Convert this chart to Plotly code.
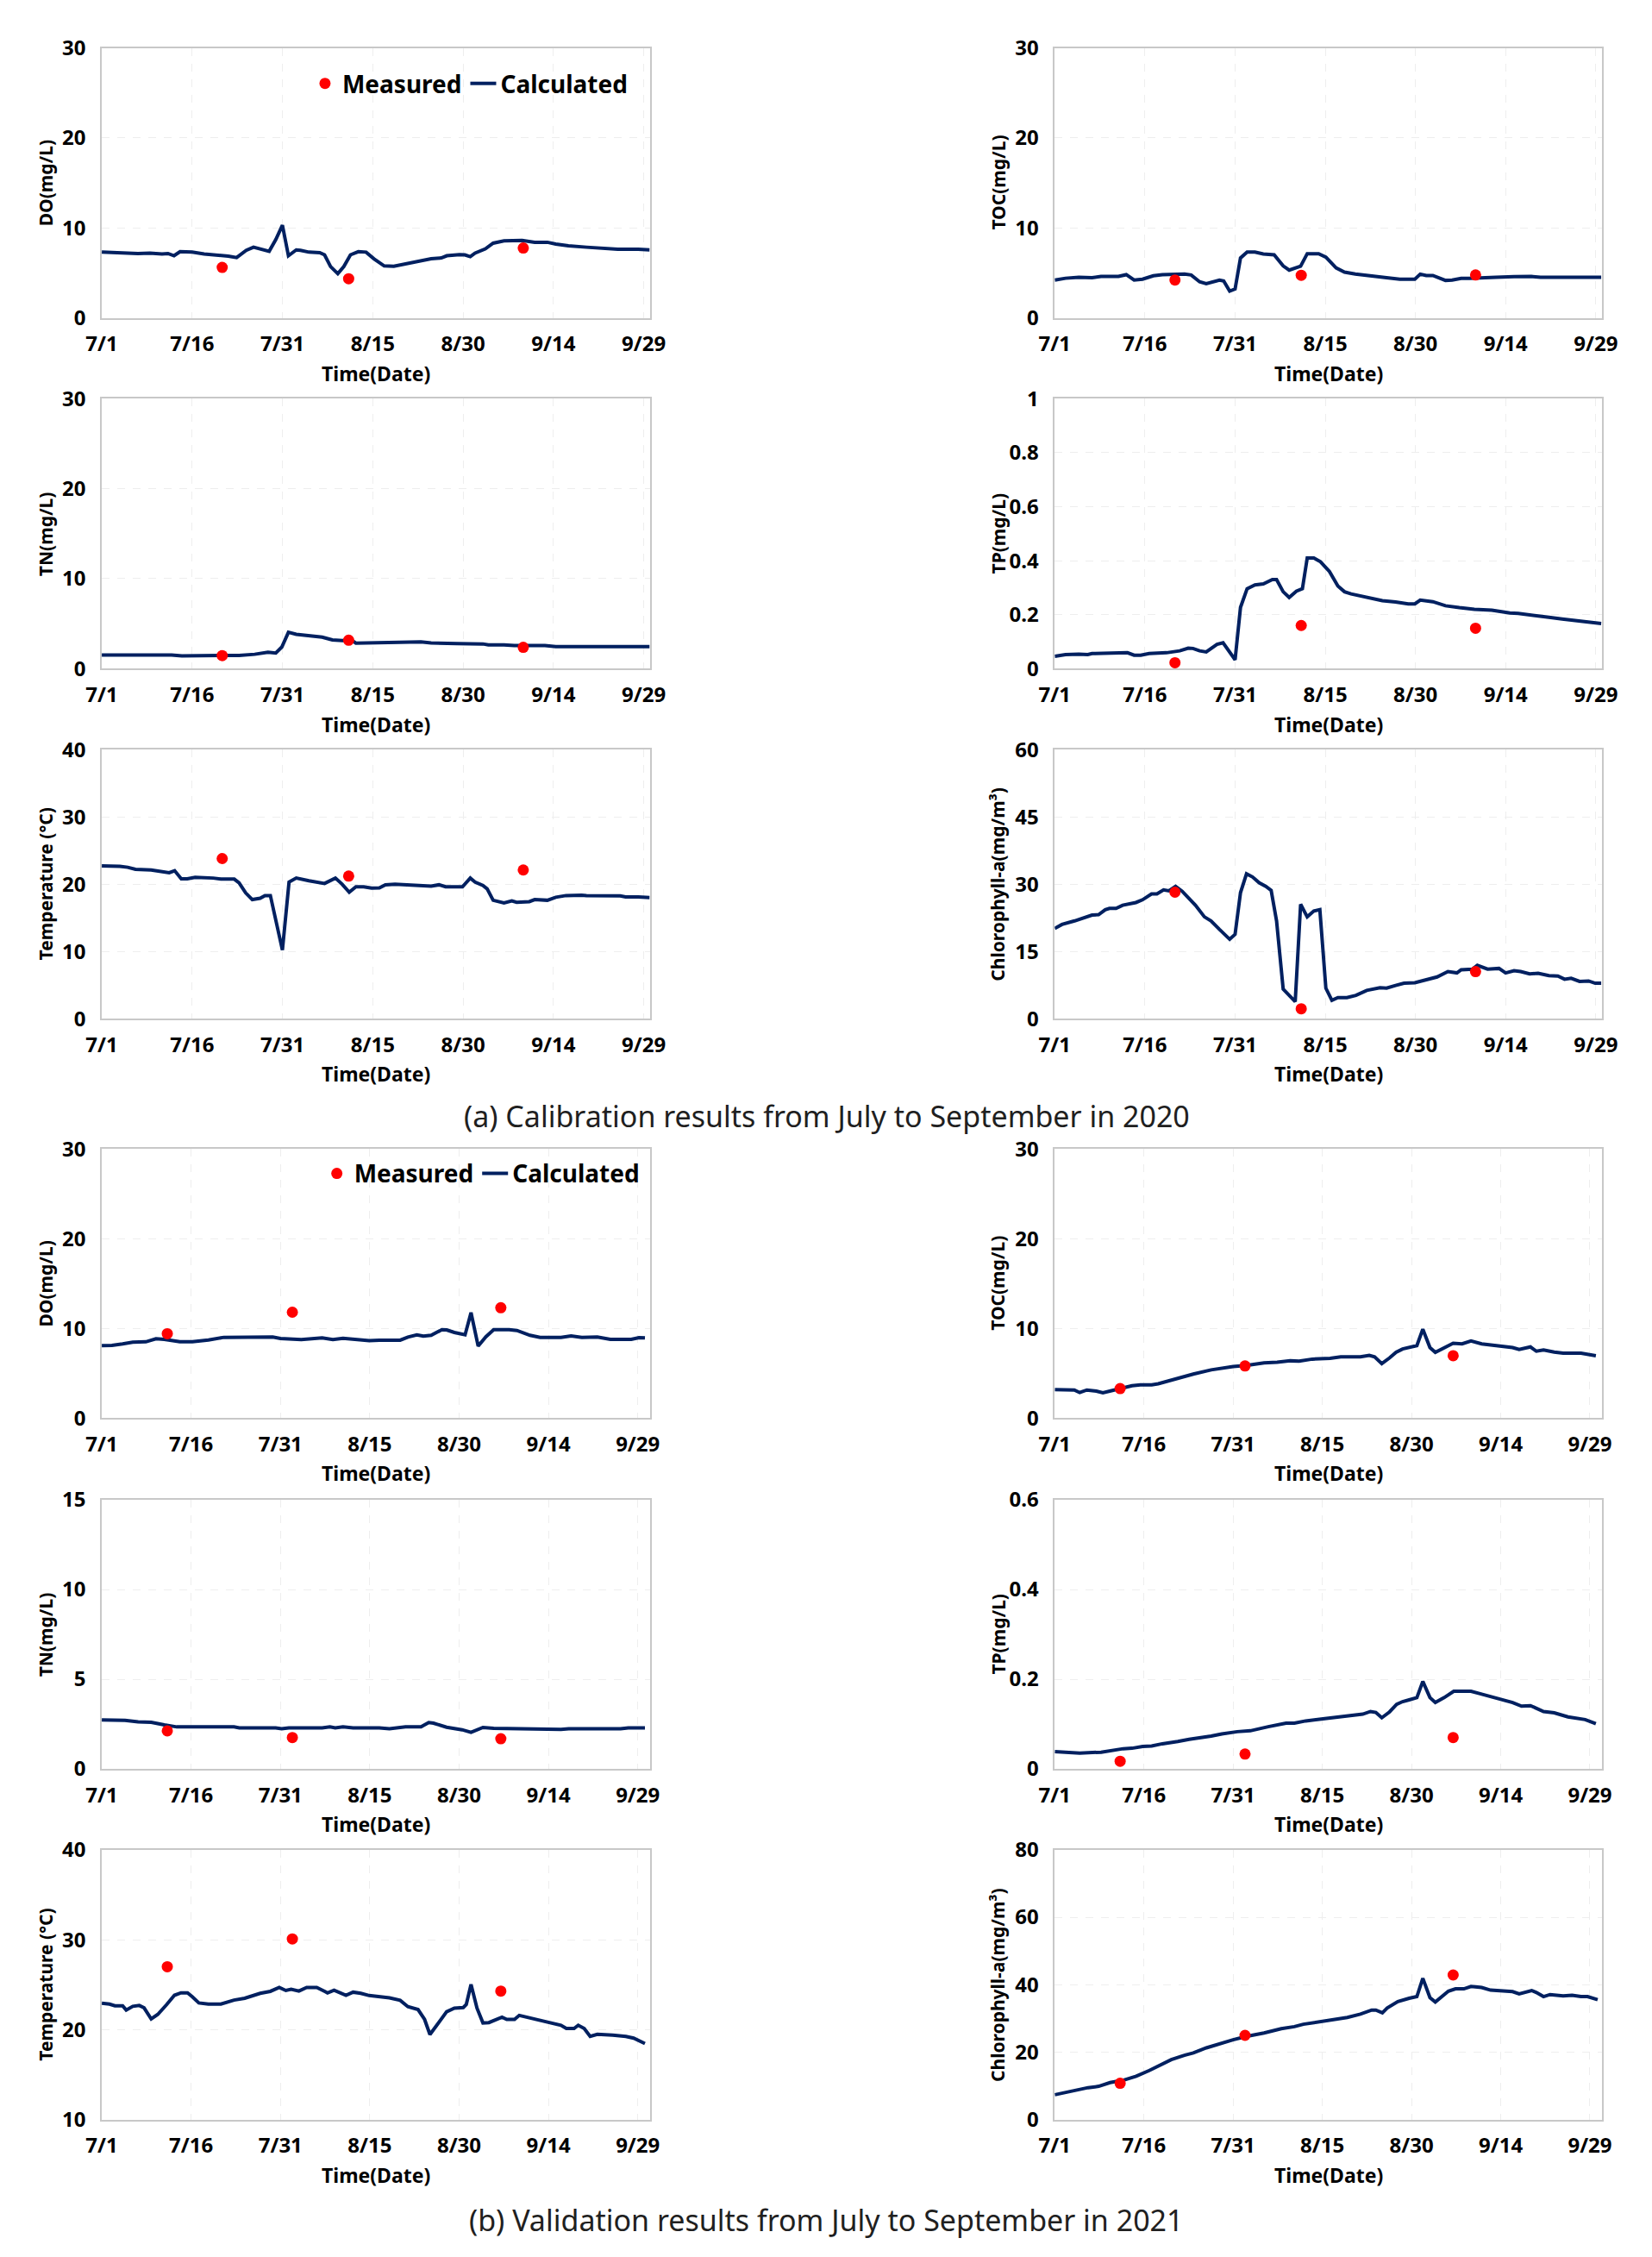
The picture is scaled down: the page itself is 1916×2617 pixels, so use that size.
import plotly.graph_objects as go

W, H = 1916, 2617
NAVY = '#002060'
RED = '#ff0000'
FONT = 'Noto Sans'

# x axis: days after 7/1
x_tickvals = [0, 15, 30, 45, 60, 75, 90]
x_ticktext = ['7/1', '7/16', '7/31', '8/15', '8/30', '9/14', '9/29']

meas_days_2020 = [20, 41, 70]
meas_days_2021 = [11, 32, 67]

# ---- 2020 calibration (day, value) ----
do_2020_calc = [(0, 7.3), (2, 7.25), (4, 7.2), (6, 7.15), (8, 7.2), (10, 7.1), (11, 7.15), (12, 6.9),
                (13, 7.35), (15, 7.3), (17, 7.1), (19, 7.0), (21, 6.85), (22.4, 6.7), (24, 7.5),
                (25.2, 7.85), (27.8, 7.4), (28.9, 8.7), (30, 10.3), (31, 6.9), (32.3, 7.55), (33, 7.5),
                (34.4, 7.3), (36.2, 7.25), (37, 7.0), (38, 5.7), (39.2, 4.9), (40.2, 5.7), (41.3, 7.0),
                (42.6, 7.35), (43.9, 7.3), (45.2, 6.56), (46.9, 5.77), (48.5, 5.74), (51.2, 6.1),
                (54.7, 6.56), (56.4, 6.66), (57.3, 6.9), (59.4, 7.03), (60.3, 7.0), (61.2, 6.8), (62, 7.2),
                (63.7, 7.67), (65, 8.3), (66.8, 8.55), (69.8, 8.6), (71.9, 8.4), (74, 8.4), (75.4, 8.2),
                (77.5, 8.0), (80.5, 7.85), (83.1, 7.75), (85.7, 7.63), (89.1, 7.63), (91, 7.55)]
do_2020_meas = [5.6, 4.35, 7.76]

toc_2020_calc = [(0, 4.2), (1.8, 4.4), (4, 4.5), (6.2, 4.45), (7.7, 4.6), (10.6, 4.6), (11.9, 4.8),
                 (13.2, 4.2), (14.6, 4.3), (16.4, 4.67), (17.9, 4.8), (21.6, 4.86), (22.7, 4.76), (24.1, 4.0),
                 (25.2, 3.8), (27.4, 4.2), (28.1, 4.1), (29.1, 2.97), (30, 3.2), (30.9, 6.65), (32, 7.3),
                 (33.3, 7.3), (34.7, 7.1), (36.5, 7.0), (38, 5.77), (39, 5.3), (40.9, 5.74), (42, 7.13),
                 (43.9, 7.13), (45.1, 6.75), (46.8, 5.55), (48.2, 5.08), (50, 4.86), (53, 4.57), (55.2, 4.45),
                 (57.4, 4.3), (59.9, 4.3), (60.8, 4.86), (61.8, 4.7), (62.9, 4.7), (65, 4.16), (66.1, 4.2),
                 (67.6, 4.38), (69, 4.38), (70.5, 4.45), (73.4, 4.5), (76.4, 4.57), (79.3, 4.6), (80.8, 4.5),
                 (90.9, 4.5)]
toc_2020_meas = [4.2, 4.73, 4.76]

tn_2020_calc = [(0, 1.52), (11.6, 1.52), (13.3, 1.42), (22.8, 1.48), (25.4, 1.6), (27.6, 1.83), (28.9, 1.74),
                (29.9, 2.4), (31, 4.04), (32.3, 3.82), (36.6, 3.5), (38.3, 3.19), (40, 3.13), (41.3, 3.25),
                (42.2, 2.84), (46.1, 2.87), (47.8, 2.97), (53, 2.97), (54.7, 2.87), (58.1, 2.87), (59, 2.78),
                (63.3, 2.75), (64.2, 2.65), (66.8, 2.65), (68.5, 2.56), (73.6, 2.56), (75.4, 2.46), (91, 2.46)]
tn_2020_meas = [1.45, 3.16, 2.37]

tp_2020_calc = [(0, 0.046), (1.8, 0.052), (4, 0.054), (5.5, 0.052), (6.2, 0.056), (11.3, 0.056), (12.1, 0.059),
                (13.2, 0.05), (14.3, 0.05), (15.7, 0.056), (18.6, 0.059), (20.8, 0.066), (22.2, 0.076),
                (23, 0.075), (24.1, 0.066), (25.2, 0.062), (26.3, 0.077), (27, 0.09), (28, 0.096),
                (29.1, 0.059), (30, 0.033), (30.9, 0.227), (32, 0.296), (33.3, 0.31), (34.7, 0.314),
                (36.2, 0.33), (36.9, 0.33), (38, 0.285), (39, 0.264), (40.2, 0.287), (41.2, 0.296),
                (42, 0.41), (43.1, 0.41), (44.2, 0.396), (45.7, 0.36), (47.1, 0.306), (48.2, 0.285),
                (49.3, 0.277), (52.2, 0.264), (54.5, 0.252), (56.7, 0.247), (58.8, 0.24), (59.9, 0.24),
                (60.8, 0.254), (62.9, 0.248), (65, 0.233), (67.3, 0.226), (69.8, 0.22), (72.7, 0.217),
                (75.7, 0.206), (77.1, 0.205), (80, 0.195), (82.2, 0.19), (84.4, 0.184), (87.3, 0.177),
                (90.9, 0.167)]
tp_2020_meas = [0.022, 0.16, 0.15]

temp_2020_calc = [(0, 22.7), (3, 22.65), (4.3, 22.5), (5.6, 22.2), (8.2, 22.1), (9.9, 21.8), (11.2, 21.7),
                  (12.1, 22.0), (13.2, 20.8), (14.2, 20.8), (15.5, 21.0), (18.5, 20.9), (19.8, 20.75),
                  (22, 20.75), (22.8, 20.2), (23.9, 18.7), (25, 17.7), (26.3, 17.9), (27.1, 18.3), (28, 18.3),
                  (30, 10.2), (31.1, 20.3), (32.3, 20.9), (34.4, 20.5), (37, 20.1), (38.8, 20.9), (39.9, 20.0),
                  (41.1, 18.8), (42.2, 19.6), (43.5, 19.6), (44.8, 19.4), (46.1, 19.45), (47.1, 19.9),
                  (48.7, 20.0), (51.2, 19.9), (53, 19.75), (54.7, 19.7), (56, 19.9), (57.1, 19.6),
                  (59.9, 19.6), (61.2, 20.9), (62, 20.3), (63.3, 19.8), (64, 19.3), (65, 17.6), (66.8, 17.2),
                  (68.1, 17.5), (68.9, 17.3), (71, 17.4), (71.9, 17.7), (74, 17.6), (75.4, 18.05),
                  (77.1, 18.3), (79.7, 18.35), (80.5, 18.3), (86.1, 18.25), (87, 18.1), (89.1, 18.1), (91, 18.0)]
temp_2020_meas = [23.8, 21.2, 22.1]

chl_2020_calc = [(0, 20.1), (1.2, 21.0), (3.3, 21.8), (4.8, 22.4), (6.2, 23.1), (7.3, 23.2), (8.4, 24.3),
                 (9.1, 24.6), (10.2, 24.6), (11.3, 25.3), (13.5, 25.9), (14.6, 26.5), (16.1, 27.8), (17, 27.8),
                 (18.1, 28.7), (19, 28.5), (20.1, 29.5), (21.2, 28.4), (23.4, 25.3), (24.9, 22.7), (26, 21.8),
                 (27.4, 19.9), (29.1, 17.7), (30, 18.8), (30.9, 28.1), (31.9, 32.3), (32.9, 31.6), (34, 30.3),
                 (35.1, 29.5), (36, 28.6), (36.9, 21.8), (38, 6.6), (39.1, 4.9), (40, 3.8), (40.9, 25.5),
                 (42, 22.7), (43.1, 24.0), (44.1, 24.3), (45.1, 6.8), (46.1, 4.1), (47.1, 4.7), (48.6, 4.7),
                 (50.1, 5.2), (51.9, 6.3), (54.1, 6.9), (55.2, 6.8), (56.7, 7.4), (58.1, 7.9), (59.9, 8.0),
                 (61.8, 8.7), (63.6, 9.3), (65.4, 10.5), (66.9, 10.2), (67.6, 10.9), (69.5, 11.05),
                 (70.3, 11.9), (72, 11.05), (73.9, 11.2), (75, 10.2), (76.4, 10.7), (77.5, 10.5), (79, 10.0),
                 (80.4, 10.1), (82.2, 9.6), (83.7, 9.5), (84.8, 8.8), (85.9, 9.0), (87.3, 8.3), (88.8, 8.4),
                 (89.9, 7.9), (90.9, 7.9)]
chl_2020_meas = [28.2, 2.2, 10.5]

# ---- 2021 validation ----
do_2021_calc = [(0, 8.08), (1.7, 8.1), (3.5, 8.27), (5.2, 8.46), (7.4, 8.5), (9.1, 8.84), (10.5, 8.78),
                (13.1, 8.5), (15.2, 8.5), (17.9, 8.7), (20.5, 9.0), (23.1, 9.03), (28.7, 9.03), (30, 8.87),
                (33.5, 8.75), (37, 8.94), (38.8, 8.75), (40.5, 8.9), (44.9, 8.62), (46.6, 8.68), (50.1, 8.68),
                (51.4, 9.03), (52.9, 9.28), (54, 9.13), (55.3, 9.22), (57.1, 9.85), (57.9, 9.82), (59.2, 9.54),
                (61, 9.28), (62, 11.75), (63.2, 8.02), (64.5, 9.06), (65.8, 9.85), (68.4, 9.85), (69.7, 9.76),
                (71.9, 9.22), (73.6, 9.0), (77.1, 9.0), (78.8, 9.16), (80.6, 9.0), (83.2, 9.03), (85.4, 8.78),
                (88.9, 8.78), (90.2, 8.97), (91.2, 8.94)]
do_2021_meas = [9.4, 11.8, 12.3]

toc_2021_calc = [(0, 3.16), (3.3, 3.13), (4.2, 2.84), (5.4, 3.13), (7, 3.0), (8.1, 2.81), (9.4, 3.03),
                 (11.1, 3.3), (13, 3.6), (14.4, 3.7), (16.3, 3.7), (17.4, 3.82), (19.6, 4.23), (23.3, 4.9),
                 (26.3, 5.37), (30, 5.75), (32.2, 5.87), (35.2, 6.16), (37.4, 6.22), (39.6, 6.38), (41.1, 6.35),
                 (43.3, 6.57), (46.3, 6.66), (48.1, 6.82), (51.4, 6.82), (52.9, 6.98), (53.8, 6.82), (55, 6.06),
                 (56.3, 6.7), (57.4, 7.33), (58.5, 7.7), (59.6, 7.86), (60.9, 8.08), (61.9, 9.91), (63.1, 7.86),
                 (64, 7.33), (65.5, 7.89), (67, 8.34), (68.5, 8.27), (70, 8.59), (71.8, 8.27), (73.7, 8.12),
                 (75.5, 7.89), (77, 7.86), (78.1, 7.64), (80, 7.93), (81, 7.45), (82.2, 7.58), (84, 7.36),
                 (85.5, 7.23), (88.5, 7.23), (91, 6.95)]
toc_2021_meas = [3.28, 5.81, 6.95]

tn_2021_calc = [(0, 2.73), (3.9, 2.7), (6.1, 2.62), (8.3, 2.6), (10.5, 2.45), (12.6, 2.34), (22.2, 2.34),
                (23.1, 2.29), (29.2, 2.29), (30.2, 2.24), (31.4, 2.29), (37, 2.29), (38.3, 2.34), (39.2, 2.29),
                (40.5, 2.34), (42.2, 2.29), (46.6, 2.29), (48.3, 2.24), (51, 2.34), (53.6, 2.34), (54.9, 2.58),
                (55.7, 2.55), (57.9, 2.32), (60.5, 2.18), (62, 2.04), (64, 2.31), (65.8, 2.26), (69.3, 2.24),
                (70.1, 2.2), (77.1, 2.2), (78.4, 2.24), (87.1, 2.24), (88.4, 2.29), (91.2, 2.29)]
tn_2021_meas = [2.12, 1.75, 1.68]

tp_2021_calc = [(0, 0.0386), (3.3, 0.0373), (4.2, 0.0354), (7.8, 0.0373), (8.5, 0.039), (11.5, 0.045),
                (13, 0.046), (14.8, 0.05), (16.3, 0.051), (18.1, 0.056), (20.7, 0.061), (22.6, 0.066),
                (26.3, 0.073), (28.1, 0.078), (30.7, 0.083), (32.9, 0.085), (35.9, 0.094), (38.9, 0.102),
                (40.3, 0.102), (42.2, 0.107), (44.8, 0.111), (47.7, 0.116), (49.2, 0.119), (50.7, 0.121),
                (51.8, 0.122), (53.1, 0.128), (54, 0.126), (55, 0.114), (56.3, 0.127), (57.5, 0.144),
                (58.5, 0.15), (59.6, 0.154), (60.9, 0.159), (61.9, 0.195), (63.1, 0.159), (64, 0.148),
                (65.5, 0.159), (67.1, 0.173), (70, 0.173), (71.4, 0.168), (73.7, 0.159), (75.9, 0.152),
                (77, 0.148), (78.5, 0.14), (80, 0.141), (82.2, 0.128), (84, 0.125), (86.3, 0.116),
                (87.7, 0.114), (89.2, 0.11), (91, 0.101)]
tp_2021_meas = [0.017, 0.033, 0.070]

temp_2021_calc = [(0, 22.95), (1.3, 22.85), (2.2, 22.66), (3.5, 22.66), (4.1, 22.19), (5.2, 22.6), (6.3, 22.7),
                  (7.1, 22.44), (8.3, 21.2), (9.4, 21.7), (10.9, 22.8), (12.2, 23.83), (13.3, 24.1),
                  (14.4, 24.1), (15.2, 23.67), (16.3, 22.98), (17.9, 22.85), (20, 22.85), (22.2, 23.3),
                  (24, 23.5), (26.6, 24.05), (28.3, 24.27), (29.8, 24.7), (30.9, 24.36), (31.8, 24.5),
                  (33.1, 24.3), (34.4, 24.7), (36.1, 24.7), (37.5, 24.24), (37.9, 24.1), (39, 24.4),
                  (41, 23.83), (42.2, 24.18), (43.5, 24.05), (44.9, 23.8), (46.6, 23.64), (48.3, 23.55),
                  (50.1, 23.27), (51.4, 22.57), (53.1, 22.25), (54.2, 21.15), (55.1, 19.47), (56.4, 20.67),
                  (57.9, 22.0), (59.2, 22.4), (60.7, 22.47), (61.2, 22.8), (62, 25.03), (63, 22.4),
                  (64, 20.76), (65, 20.8), (67.2, 21.4), (68, 21.15), (69.3, 21.15), (70.1, 21.6),
                  (71.9, 21.3), (74.5, 20.96), (77.1, 20.5), (78, 20.14), (79.3, 20.14), (80, 20.5),
                  (81, 20.14), (82, 19.26), (83.2, 19.5), (85.8, 19.4), (88, 19.26), (89.3, 19.07),
                  (91.2, 18.47)]
temp_2021_meas = [27.0, 30.1, 24.3]

chl_2021_calc = [(0, 7.4), (1.9, 8.1), (4.1, 8.8), (5.6, 9.5), (7.4, 9.9), (9.3, 11.0), (11.5, 11.7),
                 (13.7, 12.9), (15.9, 14.6), (18.1, 16.4), (19.6, 17.8), (21.8, 19.1), (23.3, 19.8),
                 (25.5, 21.3), (27.8, 22.6), (30, 23.7), (32.2, 24.7), (35.2, 25.7), (38.1, 27.0), (40.3, 27.6),
                 (41.8, 28.3), (44, 28.9), (46.3, 29.6), (49.2, 30.3), (51.4, 31.3), (53.3, 32.5), (54, 32.5),
                 (55.1, 31.7), (55.9, 33.1), (57.7, 35.0), (59.6, 36.0), (60.9, 36.5), (61.9, 41.9),
                 (63.1, 36.2), (64, 34.9), (65.1, 36.6), (66.2, 38.1), (67.4, 38.8), (68.8, 38.8), (70, 39.5),
                 (71.8, 39.2), (73.3, 38.4), (76.2, 38.1), (77, 37.98), (78.1, 37.3), (80.2, 38.3), (81, 37.7),
                 (82.2, 36.5), (83.3, 37.1), (85.5, 36.7), (87, 36.9), (88.5, 36.5), (89.6, 36.5),
                 (91.3, 35.6)]
chl_2021_meas = [10.8, 25.0, 42.9]

# y axis titles and ticks
titles = ['DO(mg/L)', 'TOC(mg/L)', 'TN(mg/L)', 'TP(mg/L)', 'Temperature (°C)', 'Chlorophyll-a(mg/m³)']
yticks_2020 = [[0, 10, 20, 30], [0, 10, 20, 30], [0, 10, 20, 30],
               [0, 0.2, 0.4, 0.6, 0.8, 1], [0, 10, 20, 30, 40], [0, 15, 30, 45, 60]]
yticks_2021 = [[0, 10, 20, 30], [0, 10, 20, 30], [0, 5, 10, 15],
               [0, 0.2, 0.4, 0.6], [10, 20, 30, 40], [0, 20, 40, 60, 80]]

calc_2020 = [do_2020_calc, toc_2020_calc, tn_2020_calc, tp_2020_calc, temp_2020_calc, chl_2020_calc]
meas_2020 = [do_2020_meas, toc_2020_meas, tn_2020_meas, tp_2020_meas, temp_2020_meas, chl_2020_meas]
calc_2021 = [do_2021_calc, toc_2021_calc, tn_2021_calc, tp_2021_calc, temp_2021_calc, chl_2021_calc]
meas_2021 = [do_2021_meas, toc_2021_meas, tn_2021_meas, tp_2021_meas, temp_2021_meas, chl_2021_meas]

# panel geometry in pixels
rows_px = [(38, 355), (450, 767), (862, 1178), (1331, 1647), (1743, 2059), (2154, 2471)]
cols_px = [(101, 749), (1228, 1875)]
ytitle_x = [35, 1161]

panels = []
for k in range(6):
    panels.append(dict(row=k // 2, col=k % 2, calc=calc_2020[k], mdays=meas_days_2020, mvals=meas_2020[k],
                       title=titles[k], yticks=yticks_2020[k], xend=91, legend='legend' if k == 0 else None))
for k in range(6):
    panels.append(dict(row=3 + k // 2, col=k % 2, calc=calc_2021[k], mdays=meas_days_2021, mvals=meas_2021[k],
                       title=titles[k], yticks=yticks_2021[k], xend=92, legend='legend2' if k == 0 else None))

fig = go.Figure()
annotations = []
layout = {}
for i, p in enumerate(panels, start=1):
    sfx = '' if i == 1 else str(i)
    top, bot = rows_px[p['row']]
    left, right = cols_px[p['col']]
    days = [d for d, v in p['calc']]
    vals = [v for d, v in p['calc']]
    show = p['legend'] is not None
    fig.add_trace(go.Scatter(x=days, y=vals, mode='lines', name='Calculated',
                             line=dict(color=NAVY, width=4), xaxis='x' + sfx, yaxis='y' + sfx,
                             showlegend=show, legend=p['legend'] or 'legend', legendrank=2))
    fig.add_trace(go.Scatter(x=p['mdays'], y=p['mvals'], mode='markers', name='Measured',
                             marker=dict(color=RED, size=13), xaxis='x' + sfx, yaxis='y' + sfx,
                             showlegend=show, legend=p['legend'] or 'legend', legendrank=1))
    common = dict(showline=True, linecolor='#c8c8c8', linewidth=1.5, mirror=True,
                  showgrid=True, gridcolor='#eeeeee', griddash='dash', gridwidth=1,
                  zeroline=False, ticks='', ticklabelstandoff=8,
                  tickfont=dict(family=FONT, size=24, color='black', weight='bold'))
    layout['xaxis' + sfx] = dict(common, domain=[left / W, right / W], anchor='y' + sfx,
                                 range=[0, p['xend']], tickvals=x_tickvals, ticktext=x_ticktext)
    yt = p['yticks']
    layout['yaxis' + sfx] = dict(common, domain=[1 - bot / H, 1 - top / H], anchor='x' + sfx,
                                 range=[yt[0], yt[-1]], tickvals=yt)
    layout['yaxis' + sfx]['ticklabelstandoff'] = 12
    annotations.append(dict(text='<b>' + p['title'] + '</b>', textangle=-90, xref='paper', yref='paper',
                            x=ytitle_x[p['col']] / W, y=1 - (top + bot) / 2 / H, showarrow=False,
                            xanchor='center', yanchor='middle',
                            font=dict(family=FONT, size=21, color='black')))
    annotations.append(dict(text='<b>Time(Date)</b>', xref='paper', yref='paper',
                            x=(left + right) / 2 / W, y=1 - (bot + 65) / H, showarrow=False,
                            xanchor='center', yanchor='middle',
                            font=dict(family=FONT, size=23, color='black')))

captions = ['(a) Calibration results from July to September in 2020',
            '(b) Validation results from July to September in 2021']
for cap, cy in zip(captions, [1292, 2589]):
    annotations.append(dict(text=cap, xref='paper', yref='paper', x=0.5, y=1 - cy / H, showarrow=False,
                            xanchor='center', yanchor='middle',
                            font=dict(family=FONT, size=34, color='#202020')))

legend_style = dict(orientation='h', xanchor='right', yanchor='middle', bgcolor='rgba(0,0,0,0)',
                    itemwidth=30, font=dict(family=FONT, size=28, color='black', weight='bold'))
layout['legend'] = dict(legend_style, x=728 / W, y=1 - 80 / H)
layout['legend2'] = dict(legend_style, x=742 / W, y=1 - 1360 / H)

fig.update_layout(width=W, height=H, autosize=False, margin=dict(l=0, r=0, t=0, b=0),
                  paper_bgcolor='white', plot_bgcolor='white', annotations=annotations, **layout)

fig.write_html("out.html", config={'displayModeBar': False},
               post_script="document.body.style.margin='0';"
                           "document.documentElement.style.overflow='hidden';")
